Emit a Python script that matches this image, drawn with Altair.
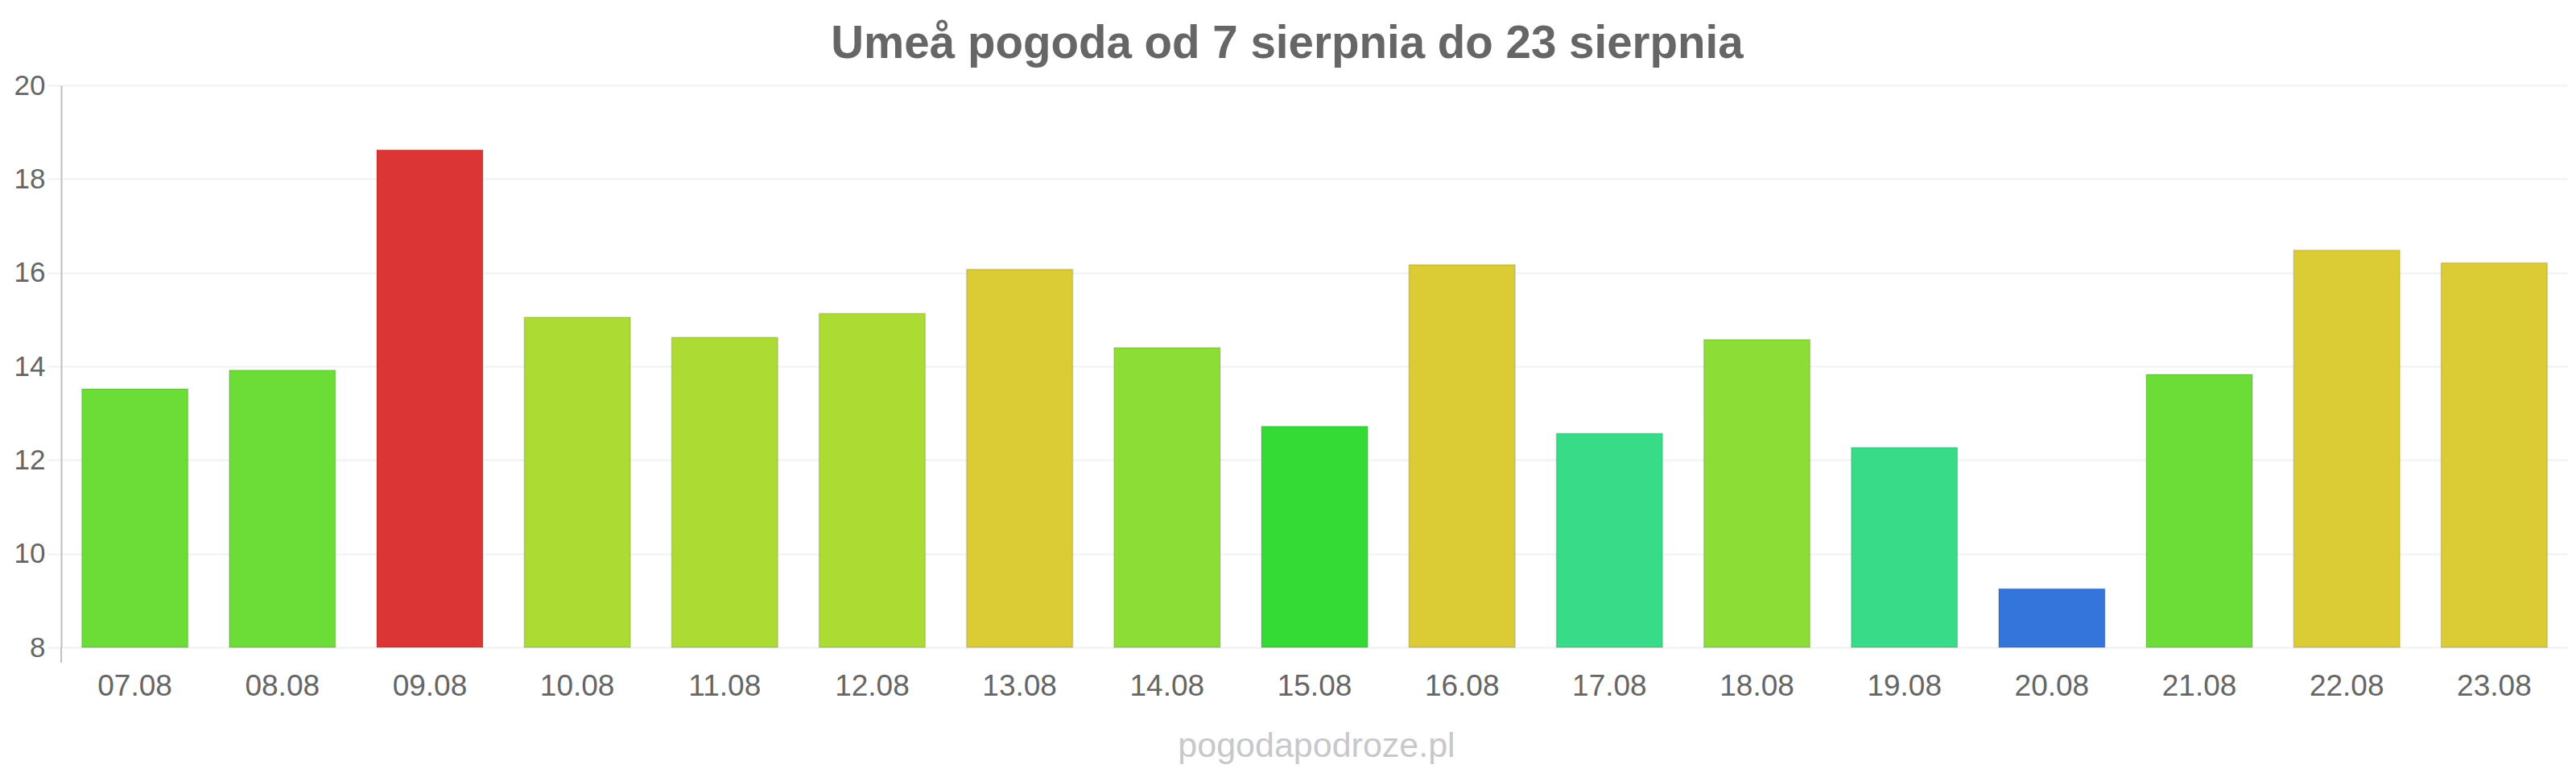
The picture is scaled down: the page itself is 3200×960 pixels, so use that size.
import altair as alt
import pandas as pd

# --- data ---
dates = ["07.08", "08.08", "09.08", "10.08", "11.08", "12.08", "13.08", "14.08", "15.08",
         "16.08", "17.08", "18.08", "19.08", "20.08", "21.08", "22.08", "23.08"]
temps = [13.52, 13.92, 18.62, 15.05, 14.62, 15.13, 16.07, 14.40, 12.72,
         16.17, 12.57, 14.57, 12.27, 9.25, 13.83, 16.48, 16.21]

y_ticks = [8, 10, 12, 14, 16, 18, 20]
title_text = "Umeå pogoda od 7 sierpnia do 23 sierpnia"
credit_text = "pogodapodroze.pl"

# temperature colour bands
color_thresholds = [10, 12.65, 13.2, 14.2, 14.6, 15.5, 17.5]
color_range = ["#3475db", "#38db88", "#35db35", "#6cdc36", "#8cdd36",
               "#acdc34", "#dbcb35", "#db3535"]

df = pd.DataFrame({"data": dates, "temp": temps})

FONT = "Liberation Sans"
W, H = 3114, 698

bars = alt.Chart(df).mark_bar(
    stroke="#000000", strokeOpacity=0.1, strokeWidth=2
).encode(
    x=alt.X("data:N", sort=dates,
            scale=alt.Scale(paddingInner=0.28, paddingOuter=0.14),
            axis=alt.Axis(title=credit_text, labelAngle=0, labelFont=FONT,
                          labelFontSize=37, labelColor="#666666",
                          labelPadding=30, ticks=False, tickSize=0,
                          domain=False, grid=False,
                          titleFont=FONT, titleFontSize=43,
                          titleFontWeight="normal", titleColor="#c8c8cc",
                          titleX=1559, titleY=135, titleBaseline="alphabetic",
                          titleAlign="center")),
    y=alt.Y("temp:Q",
            scale=alt.Scale(domain=[8, 20], zero=False, nice=False),
            axis=alt.Axis(title=None, values=y_ticks, labelFont=FONT,
                          labelFontSize=35, labelColor="#666666",
                          labelPadding=3, tickSize=17, tickColor="#f0f0f0",
                          tickWidth=2, domainColor="#c0c0c0", domainWidth=2,
                          gridColor="#f2f2f2", gridWidth=2)),
    y2=alt.datum(8),
    color=alt.Color("temp:Q",
                    scale=alt.Scale(type="threshold", domain=color_thresholds,
                                    range=color_range),
                    legend=None),
)

axis_ext = alt.Chart(df).mark_rule(color="#c0c0c0", strokeWidth=2).encode(
    x=alt.value(0), y=alt.value(H), y2=alt.value(H + 19)
)

chart = alt.layer(bars, axis_ext).properties(
    width=W, height=H,
    title=alt.TitleParams(title_text, font=FONT, fontSize=56.5, fontWeight="bold",
                          color="#666666", anchor="middle", frame="group",
                          offset=6, dx=-34),
    autosize=alt.AutoSizeParams(type="none"),
    padding={"left": 68, "top": 98, "right": 0, "bottom": 148},
).configure_view(stroke=None).configure(background="white")

chart.save("out.html", embed_options={"renderer": "svg", "actions": False})
